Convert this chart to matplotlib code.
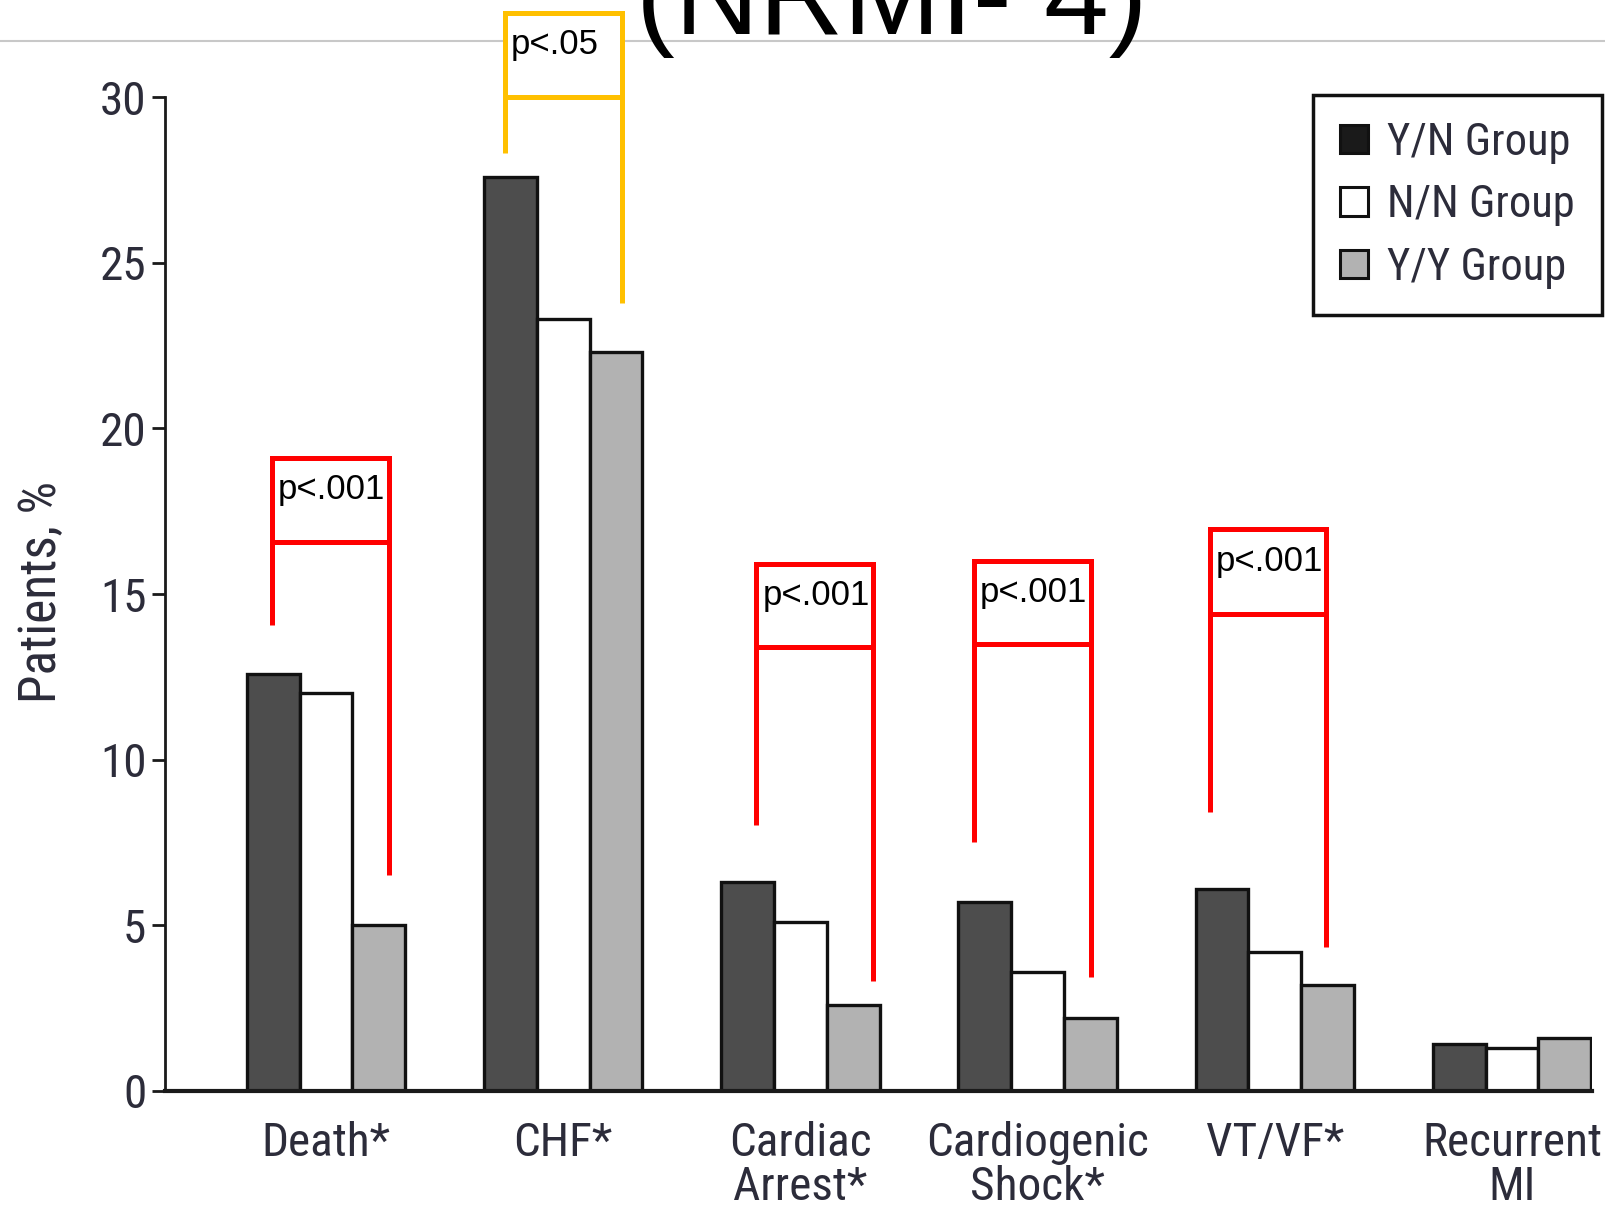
import matplotlib
matplotlib.use("Agg")
import matplotlib.pyplot as plt
import numpy as np
from matplotlib import font_manager as fm
from matplotlib.patches import Rectangle, Patch
from matplotlib.lines import Line2D

# ---------------- data ----------------
categories = ["Death*", "CHF*", "Cardiac\nArrest*", "Cardiogenic\nShock*", "VT/VF*", "Recurrent\nMI"]
series_names = ["Y/N Group", "N/N Group", "Y/Y Group"]
yn_values = [12.6, 27.6, 6.3, 5.7, 6.1, 1.4]
nn_values = [12.0, 23.3, 5.1, 3.6, 4.2, 1.3]
yy_values = [5.0, 22.3, 2.6, 2.2, 3.2, 1.6]
y_ticks = [0, 5, 10, 15, 20, 25, 30]
y_label = "Patients, %"
title_text = "(NRMI- 4)"

# significance brackets: group, left/right offsets, top, mid, left/right bottoms, label, colour
brackets = [
    (0, -0.229, 0.264, 19.10, 16.56, 14.07, 6.52, "p<.001", "#FF0000"),
    (1, -0.245, 0.248, 32.55, 30.00, 28.32, 23.79, "p<.05", "#FFC000"),
    (2, -0.186, 0.308, 15.91, 13.39, 8.03, 3.31, "p<.001", "#FF0000"),
    (3, -0.268, 0.226, 16.00, 13.48, 7.52, 3.45, "p<.001", "#FF0000"),
    (4, -0.274, 0.216, 16.95, 14.40, 8.43, 4.33, "p<.001", "#FF0000"),
]

# ---------------- fonts ----------------
names = {f.name for f in fm.fontManager.ttflist}
NARROW, SCALE = "Liberation Sans", 0.84
for cand, sc in [("Liberation Sans Narrow", 1.0), ("Arial Narrow", 1.0),
                 ("Roboto Condensed", 1.0), ("PT Sans Narrow", 1.0),
                 ("Archivo Narrow", 0.97), ("Sofia Sans Condensed", 1.0)]:
    if cand in names:
        NARROW, SCALE = cand, sc
        break
REG = "Liberation Sans" if "Liberation Sans" in names else "DejaVu Sans"
plt.rcParams["font.family"] = [NARROW, "DejaVu Sans"]

TEXT_COL = "#2c2c3a"
TICK_FS = 34 * SCALE
LEG_FS = 32 * SCALE
YLAB_FS = 37 * SCALE

fig = plt.figure(figsize=(16.06, 12.09), dpi=100)
fig.patch.set_facecolor("white")
ax = fig.add_axes([0.10274, 0.09777, 0.8885, 0.82175])

x = np.arange(len(categories))
w = 0.2225
colors = ["#4d4d4d", "#ffffff", "#b2b2b2"]
for i, (vals, col) in enumerate(zip([yn_values, nn_values, yy_values], colors)):
    ax.bar(x + (i - 1) * w, vals, width=w, color=col, edgecolor="#111111",
           linewidth=2.4, zorder=2)

ax.set_xlim(-0.679, 5.337)
ax.set_ylim(0, 30)
ax.set_yticks(y_ticks)
ax.set_yticklabels([str(t) for t in y_ticks])
ax.set_xticks(x)
ax.set_xticklabels(categories, linespacing=0.98)

for s in ["top", "right"]:
    ax.spines[s].set_visible(False)
ax.spines["left"].set_linewidth(2.0)
ax.spines["left"].set_color("#1a1a1a")
ax.spines["bottom"].set_linewidth(3.0)
ax.spines["bottom"].set_color("#1a1a1a")

ax.tick_params(axis="y", direction="out", length=9.4, width=2.0, color="#1a1a1a",
               pad=4, labelsize=TICK_FS, labelcolor=TEXT_COL)
ax.tick_params(axis="x", length=0, pad=22, labelsize=TICK_FS, labelcolor=TEXT_COL)

ax.set_ylabel(y_label, fontsize=YLAB_FS, color=TEXT_COL)
ax.yaxis.set_label_coords(-0.0685, 0.502)

# brackets
for g, lo, ro, top, mid, lb, rb, lab, col in brackets:
    L, R = g + lo, g + ro
    ax.add_patch(Rectangle((L, mid), R - L, top - mid, facecolor="white", edgecolor=col,
                           linewidth=3.6, clip_on=False, zorder=4))
    ax.add_line(Line2D([L, L], [mid, lb], color=col, lw=3.6, solid_capstyle="butt",
                       clip_on=False, zorder=4))
    ax.add_line(Line2D([R, R], [mid, rb], color=col, lw=3.6, solid_capstyle="butt",
                       clip_on=False, zorder=4))
    ax.text(L + 0.025, top - 1.24, lab, fontsize=25, family=[REG, "DejaVu Sans"],
            color="black", ha="left", va="baseline", zorder=5, clip_on=False)

# legend
handles = [Patch(facecolor=c, edgecolor="#111111", linewidth=2.2)
           for c in ["#1a1a1a", "#ffffff", "#b2b2b2"]]
leg = ax.legend(handles, series_names, loc="upper right",
                bbox_to_anchor=(0.9973, 0.9214), bbox_transform=fig.transFigure,
                borderaxespad=0, fontsize=LEG_FS, frameon=True, fancybox=False,
                handlelength=0.63 * 32 / LEG_FS, handleheight=0.61 * 32 / LEG_FS,
                handletextpad=0.43, labelspacing=0.46, borderpad=0.6)
leg.get_frame().set_edgecolor("#111111")
leg.get_frame().set_linewidth(2.5)
leg.get_frame().set_alpha(1)
for t in leg.get_texts():
    t.set_color(TEXT_COL)

# top separator line and cut-off title
fig.add_artist(Line2D([0, 1], [0.9663, 0.9663], transform=fig.transFigure,
                      color="#c8c8c8", lw=1.5, zorder=-1))
fig.text(636 / 1606, 1 - 34 / 1209, title_text, fontsize=84, family=[REG, "DejaVu Sans"],
         color="black", ha="left", va="baseline", zorder=3)

fig.savefig("out.png", dpi=100, facecolor="white")
